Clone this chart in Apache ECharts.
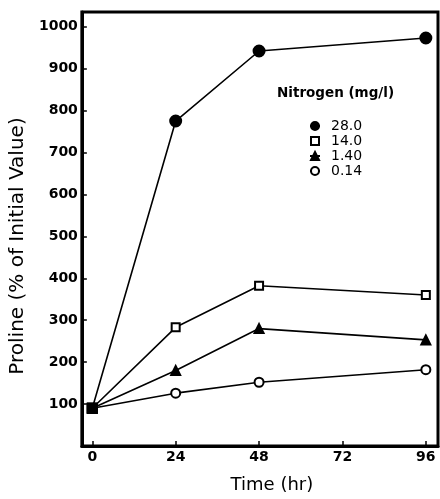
<!DOCTYPE html>
<html>
<head>
<meta charset="utf-8">
<script src="https://cdn.jsdelivr.net/npm/echarts@6/dist/echarts.min.js"></script>
<style>
  html, body { margin: 0; padding: 0; background: #fff; }
  #chart { width: 440px; height: 499px; }
</style>
</head>
<body>
<div id="chart"></div>
<script>
// data
var hours = [0, 24, 48, 96];
var n280 = [90, 775, 942, 973];
var n140 = [90, 283, 382, 360];
var n140b = [90, 180, 280, 253];
var n014 = [90, 126, 152, 182];
var xTicks = [0, 24, 48, 72, 96];
var yTicks = [100, 200, 300, 400, 500, 600, 700, 800, 900, 1000];

var font = 'DejaVu Sans';

function pts(vals) {
  var out = [];
  for (var i = 0; i < vals.length; i++) {
    if (i === 0) {
      // common starting value drawn as a filled square
      out.push({ value: [hours[i], vals[i]], symbol: 'rect', symbolSize: 9,
                 itemStyle: { color: '#000', borderColor: '#000' } });
    } else {
      out.push([hours[i], vals[i]]);
    }
  }
  return out;
}

function makeSeries(name, vals, symbol, size, filled) {
  return {
    name: name,
    type: 'line',
    data: pts(vals),
    symbol: symbol,
    symbolSize: size,
    showAllSymbol: true,
    lineStyle: { color: '#000', width: 1.6 },
    itemStyle: { color: filled ? '#000' : '#fff', borderColor: '#000', borderWidth: 2 },
    z: 3
  };
}

var chart = echarts.init(document.getElementById('chart'));
var option = {
  animation: false,
  backgroundColor: '#fff',
  title: {
    text: 'Nitrogen (mg/l)',
    left: 272, top: 81,
    textStyle: { fontFamily: font, fontSize: 13.5, fontWeight: 'bold', color: '#000' }
  },
  legend: {
    orient: 'vertical',
    left: 304, top: 114,
    itemWidth: 10, itemHeight: 10, itemGap: 1,
    textStyle: { fontFamily: font, fontSize: 14, color: '#000', padding: [0, 0, 0, 6] },
    data: ['28.0', '14.0', '1.40', '0.14']
  },
  grid: {
    left: 80, right: 2, top: 12, bottom: 45,
    show: true, borderColor: '#000', borderWidth: 3
  },
  xAxis: {
    type: 'value',
    min: -3, max: 99.5,
    name: 'Time (hr)',
    nameLocation: 'middle',
    nameGap: 30,
    nameTextStyle: { fontFamily: font, fontSize: 18, color: '#000', padding: [0, 0, 0, 24] },
    axisLine: { show: true, onZero: false, lineStyle: { color: '#000', width: 3 } },
    axisTick: { show: true, inside: true, length: 5, customValues: xTicks, lineStyle: { color: '#000', width: 1.5 } },
    axisLabel: { customValues: xTicks, fontFamily: font, fontSize: 14, fontWeight: 'bold', color: '#000', margin: 4 },
    splitLine: { show: false }
  },
  yAxis: {
    type: 'value',
    min: 0, max: 1035,
    name: 'Proline (% of Initial Value)',
    nameLocation: 'middle',
    nameGap: 47,
    nameTextStyle: { fontFamily: font, fontSize: 20, color: '#000', padding: [0, 0, 0, -34] },
    axisLine: { show: true, onZero: false, lineStyle: { color: '#000', width: 3 } },
    axisTick: { show: true, inside: true, length: 5, customValues: yTicks, lineStyle: { color: '#000', width: 1.5 } },
    axisLabel: { customValues: yTicks, formatter: function (v) { return String(v); },
                 fontFamily: font, fontSize: 14, fontWeight: 'bold', color: '#000', margin: 4 },
    splitLine: { show: false }
  },
  series: [
    makeSeries('28.0', n280, 'circle', 11, true),
    makeSeries('14.0', n140, 'rect', 8, false),
    makeSeries('1.40', n140b, 'triangle', 9, true),
    makeSeries('0.14', n014, 'circle', 9, false)
  ]
};
chart.setOption(option);
</script>
</body>
</html>
